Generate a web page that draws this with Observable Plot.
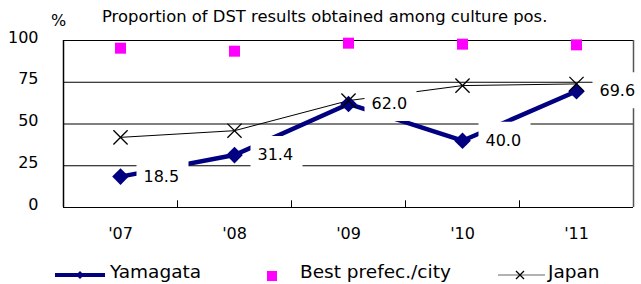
<!DOCTYPE html>
<html><head><meta charset="utf-8">
<script src="https://cdn.jsdelivr.net/npm/d3@7"></script>
<script src="https://cdn.jsdelivr.net/npm/@observablehq/plot@0.6"></script>
<style>
body{margin:0;background:#fff;font-family:"DejaVu Sans",sans-serif;color:#000;}
#wrap{position:relative;width:641px;height:284px;overflow:hidden;background:#fff;}
#title{position:absolute;left:102px;top:7px;font-size:16.4px;line-height:20px;white-space:nowrap;}
#unit{position:absolute;left:51px;top:11px;font-size:16px;line-height:20px;}
#chart{position:absolute;left:0;top:30px;}
.lg{position:absolute;top:262px;font-size:18.5px;line-height:20px;white-space:nowrap;}
.sw{position:absolute;top:262px;}
</style></head><body>
<div id="wrap">
<div id="title">Proportion of DST results obtained among culture pos.</div>
<div id="unit">%</div>
<div id="chart"></div>
<svg class="sw" style="left:53px" width="54" height="20"><line x1="2" x2="52" y1="13" y2="13" stroke="#000080" stroke-width="4"/><path d="M27,9 L31,13 L27,17 L23,13Z" fill="#000080"/></svg>
<div class="lg" style="left:110px">Yamagata</div>
<svg class="sw" style="left:262px" width="20" height="20"><rect x="5" y="9" width="10" height="10" fill="#ff00ff"/></svg>
<div class="lg" style="left:300px">Best prefec./city</div>
<svg class="sw" style="left:496px" width="52" height="20"><line x1="2" x2="49" y1="13" y2="13" stroke="#666" stroke-width="1.2"/><path d="M20,9 L28,17 M28,9 L20,17" stroke="#000" stroke-width="1.3"/></svg>
<div class="lg" style="left:548px">Japan</div>
</div>
<script>
const years = ["'07", "'08", "'09", "'10", "'11"];
const yamagata = [18.5, 31.4, 62.0, 40.0, 69.6];
const best = [95.4, 93.6, 98.4, 97.8, 97.4];
const japan = [42, 46, 64, 73, 74];
const yTicks = [0, 25, 50, 75, 100];

const rows = years.map((y, i) => ({i, year: y, yamagata: yamagata[i], best: best[i], japan: japan[i]}));
const bounds = years.slice(1).map((_, i) => i + 0.5);
const labelBox = {draw(ctx) { ctx.rect(16, -19, 52, 36); }};

const chart = Plot.plot({
  width: 641, height: 220,
  marginTop: 10, marginBottom: 43, marginLeft: 63, marginRight: 8,
  style: {fontFamily: "DejaVu Sans", fontSize: "16px", color: "#000", background: "white", overflow: "visible"},
  x: {domain: [-0.5, years.length - 0.5], label: null},
  y: {domain: [0, 100], label: null},
  marks: [
    Plot.ruleY(yTicks, {stroke: "#000", strokeWidth: 1}),
    Plot.ruleX([-0.5], {stroke: "#000", strokeWidth: 1.5}),
    Plot.ruleX([years.length - 0.5], {stroke: "#555", strokeWidth: 1.5}),
    Plot.ruleX(bounds, {y1: 0, y2: 4, stroke: "#000"}),
    Plot.axisX({ticks: years.map((_, i) => i), tickFormat: i => years[i], tickSize: 0, tickPadding: 20, label: null}),
    Plot.axisY({ticks: yTicks, tickSize: 0, tickPadding: 25, dy: -3, label: null}),
    Plot.line(rows, {x: "i", y: "japan", stroke: "#000", strokeWidth: 1}),
    Plot.line(rows, {x: "i", y: "yamagata", stroke: "#000080", strokeWidth: 4.5}),
    Plot.dot(rows, {x: "i", y: "yamagata", symbol: "diamond2", r: 7.5, fill: "#000080"}),
    Plot.dot(rows, {x: "i", y: "japan", symbol: "times", r: 6.5, fill: "none", stroke: "#000", strokeWidth: 1.3}),
    Plot.dot(rows, {x: "i", y: "best", symbol: "square", r: 6.2, fill: "#ff00ff"}),
    Plot.dot(rows, {x: "i", y: "yamagata", symbol: labelBox, r: 5, fill: "white"}),
    Plot.text(rows, {x: "i", y: "yamagata", text: d => d.yamagata.toFixed(1), dx: 23, textAnchor: "start", fontSize: 16, fill: "#000"})
  ]
});
document.getElementById("chart").appendChild(chart);
</script>
</body></html>
